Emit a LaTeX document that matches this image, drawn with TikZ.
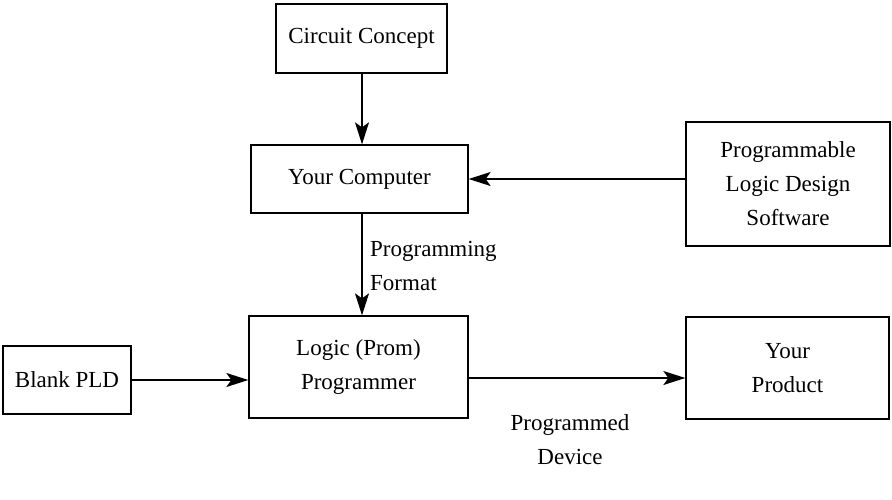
\documentclass[tikz,border=0pt]{standalone}
\usepackage{fontspec}
\setmainfont{Liberation Serif}
\usetikzlibrary{arrows.meta}
\begin{document}
\begin{tikzpicture}[x=1pt,y=-1pt,
  box/.style={draw,line width=1.3pt,inner sep=0pt,align=center,font=\fontsize{23}{34}\selectfont},
  lbl/.style={inner sep=0pt,font=\fontsize{23}{34}\selectfont},
  arr/.style={line width=1.3pt,-{Stealth[length=22pt,width=14pt,inset=5pt]}}]
\useasboundingbox (0,0) rectangle (892,499);
\node[box,minimum width=171pt,minimum height=69pt] (cc) at (361.5,38.5) {Circuit Concept};
\node[box,minimum width=217pt,minimum height=68pt] (yc) at (359.5,179) {Your Computer};
\node[box,minimum width=204pt,minimum height=124pt] (pl) at (788,184) {Programmable\\Logic Design\\Software};
\node[box,minimum width=219pt,minimum height=102pt] (lg) at (358.5,367) {Logic (Prom)\\Programmer};
\node[box,minimum width=128pt,minimum height=68pt] (bp) at (67,380) {Blank PLD};
\node[box,minimum width=203pt,minimum height=102pt] (pr) at (787.5,368) {Your\\Product};
\coordinate (ax) at (362,0);
\draw[arr] (cc.south -| ax) -- (yc.north -| ax);
\draw[arr] (pl.west |- yc.east) -- (yc.east);
\draw[arr] (yc.south -| ax) -- (lg.north -| ax);
\draw[arr] (bp.east) -- (bp.east -| lg.west);
\draw[arr] ([yshift=-11pt]lg.east) -- ([yshift=-11pt]lg.east -| pr.west);
\node[lbl,anchor=west,align=left] (pf) at (370,266) {Programming\\Format};
\node[lbl,align=center] (pd) at (570,440) {Programmed\\Device};
\end{tikzpicture}
\end{document}
